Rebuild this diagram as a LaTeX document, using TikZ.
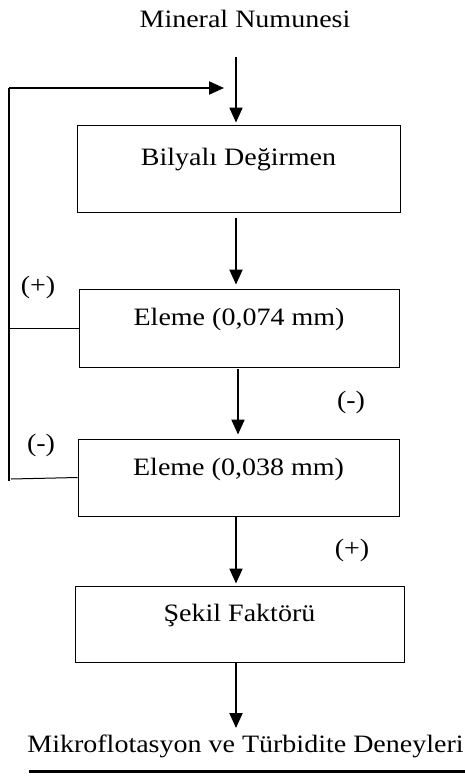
\documentclass[tikz,border=0pt]{standalone}
\usepackage{fontspec}
\setmainfont[FakeStretch=1.12]{Liberation Serif}
\usetikzlibrary{arrows.meta}
\begin{document}
\begin{tikzpicture}[x=1pt,y=-1pt,
  txt/.style={font=\fontsize{25}{30}\selectfont, inner sep=0pt},
  box/.style={draw, line width=0.9pt, inner sep=0pt, font=\fontsize{25}{30}\selectfont, text height=18pt, text depth=23pt},
  arr/.style={line width=2pt, -{Triangle[length=15pt,width=13pt]}},
  thin/.style={line width=1pt},
  fb/.style={line width=1.6pt}]
\useasboundingbox (0,0) rectangle (465,776);
\node[txt, anchor=base] (title) at (245,28) {Mineral Numunesi};
\node[box, minimum width=323pt, minimum height=87pt, text depth=24pt] (b1) at (238.5,168.5) {Bilyalı Değirmen};
\node[box, minimum width=320pt, minimum height=78pt, text depth=23pt] (b2) at (239,328) {Eleme (0,074 mm)};
\node[box, minimum width=321pt, minimum height=77pt, text depth=22pt] (b3) at (238.5,477.5) {Eleme (0,038 mm)};
\node[box, minimum width=329pt, minimum height=76pt, text depth=23pt] (b4) at (239.5,624) {Şekil Faktörü};
\node[txt, anchor=base] (final) at (245.5,752) {Mikroflotasyon ve Türbidite Deneyleri};
\node[txt] (lp1) at (38,287) {(+)};
\node[txt] (lm1) at (351,402) {(-)};
\node[txt] (lm2) at (41,445) {(-)};
\node[txt] (lp2) at (352,550) {(+)};
\coordinate (top) at (236,57);
\coordinate (fbtop) at (9,88);
\coordinate (fbbot) at (9,481);
\coordinate (fbhead) at (224,88);
\coordinate (ul) at (29,771);
\coordinate (ur) at (465,771);
\draw[arr, shorten >=2pt] (top) -- (b1.north -| top);
\draw[arr, shorten >=4pt, shorten <=6pt] (b1.south -| top) -- (b2.north -| top);
\draw[arr, shorten >=4pt, shorten <=2pt] (b2.south -| 238,0) -- (b3.north -| 238,0);
\draw[arr, shorten >=2pt] (b3.south -| 236,0) -- (b4.north -| 236,0);
\draw[arr] (b4.south -| 236,0) -- (236,728);
\draw[fb] (fbbot) -- (fbtop);
\draw[arr] (fbtop) -- (fbhead);
\draw[thin] (b2.west) -- (b2.west -| fbtop);
\draw[thin] (b3.west) -- (11,479);
\draw[line width=3pt] (ul) -- (ur);
\end{tikzpicture}
\end{document}
